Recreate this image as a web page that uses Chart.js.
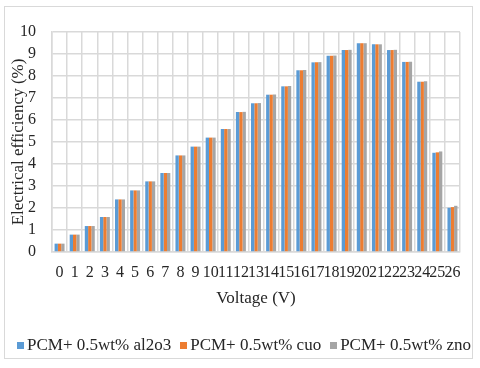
<!DOCTYPE html>
<html>
<head>
<meta charset="utf-8">
<script src="https://cdn.jsdelivr.net/npm/chart.js@4.4.1/dist/chart.umd.min.js"></script>
<style>
  html, body { margin: 0; padding: 0; background: #fff; }
  #wrap { position: relative; width: 480px; height: 368px; }
  #legenda {
    position: absolute; left: 17px; top: 334px;
    display: flex; gap: 9px; white-space: nowrap;
    font-family: 'Liberation Serif', 'Times New Roman', serif; font-size: 17px;
    color: #262626; line-height: 22px;
  }
  #legenda span.item { display: flex; align-items: center; }
  #legenda i { display: inline-block; width: 7px; height: 7px; margin-right: 3px; }
</style>
</head>
<body>
<div id="wrap"><canvas id="grafico"></canvas><div id="legenda"></div></div>
<script>
// Voltage categories (V)
const voltagens = ["0","1","2","3","4","5","6","7","8","9","10","11","12","13",
                   "14","15","16","17","18","19","20","21","22","23","24","25","26"];

// Electrical efficiency (%) per nanoparticle
const efAl2o3 = [0.38,0.79,1.18,1.59,2.39,2.80,3.21,3.59,4.39,4.79,5.20,5.59,6.36,6.76,
                 7.15,7.53,8.26,8.62,8.92,9.18,9.49,9.44,9.18,8.64,7.74,4.51,2.01];
const efCuo   = [0.38,0.79,1.18,1.59,2.39,2.80,3.21,3.59,4.39,4.79,5.20,5.59,6.36,6.76,
                 7.15,7.53,8.26,8.62,8.92,9.18,9.49,9.44,9.18,8.64,7.74,4.53,2.04];
const efZno   = [0.38,0.79,1.18,1.59,2.39,2.80,3.21,3.59,4.39,4.79,5.20,5.59,6.37,6.77,
                 7.16,7.54,8.27,8.63,8.93,9.19,9.49,9.44,9.19,8.65,7.76,4.57,2.10];

const yMin = 0, yMax = 10, yStep = 1;

const FONTE = "'Liberation Serif', 'Times New Roman', serif";
const cores = { azul: "#5b9bd5", laranja: "#ed7d31", cinza: "#a5a5a5", grade: "#d9d9d9", texto: "#262626" };

// moldura externa (borda da área do gráfico, estilo Excel)
const moldura = {
    id: "moldura",
    beforeDraw(chart) {
        const ctx = chart.ctx;
        ctx.save();
        ctx.strokeStyle = "#d9d9d9";
        ctx.lineWidth = 1;
        ctx.strokeRect(4.5, 6.5, 468, 352);
        ctx.restore();
    }
};

const serie = (label, dados, cor) => ({
    label, data: dados, backgroundColor: cor, borderWidth: 0,
    barPercentage: 1.0, categoryPercentage: 0.66,
});

const grafico = new Chart(document.getElementById("grafico"), {
    type: "bar",
    data: {
        labels: voltagens,
        datasets: [
            serie("PCM+ 0.5wt% al2o3", efAl2o3, cores.azul),
            serie("PCM+ 0.5wt% cuo", efCuo, cores.laranja),
            serie("PCM+ 0.5wt% zno", efZno, cores.cinza),
        ],
    },
    options: {
        responsive: true,
        maintainAspectRatio: false,
        animation: false,
        layout: { padding: { left: 0, right: 20, top: 32, bottom: 44 } },
        plugins: {
            legend: { display: false },   // legenda em HTML logo abaixo
            tooltip: { enabled: false },
        },
        scales: {
            x: {
                afterFit(s) { s.height = 72; },
                grid: { color: cores.grade, lineWidth: 1.5, drawTicks: false, offset: true },
                border: { color: cores.grade, width: 1.5 },
                ticks: {
                    autoSkip: false, maxRotation: 0, minRotation: 0, padding: 11,
                    color: cores.texto, font: { family: FONTE, size: 16 },
                },
                title: {
                    display: true, text: "Voltage (V)", color: cores.texto,
                    font: { family: FONTE, size: 17 }, padding: { top: 0, bottom: 15 },
                },
            },
            y: {
                min: yMin, max: yMax,
                afterFit(s) { s.width = 52; },
                grid: { color: cores.grade, lineWidth: 1.5, drawTicks: false },
                border: { color: cores.grade, width: 1.5 },
                ticks: {
                    stepSize: yStep, autoSkip: false, padding: 16,
                    color: cores.texto, font: { family: FONTE, size: 16 },
                },
                title: {
                    display: true, text: "Electrical efficiency (%)", color: cores.texto,
                    font: { family: FONTE, size: 17 }, padding: { top: 8, bottom: 0 },
                },
            },
        },
    },
    plugins: [moldura],
});

// legenda HTML a partir dos próprios datasets
document.getElementById("legenda").innerHTML = grafico.data.datasets.map(d =>
    `<span class="item"><i style="background:${d.backgroundColor}"></i>${d.label}</span>`
).join("");
</script>
</body>
</html>
